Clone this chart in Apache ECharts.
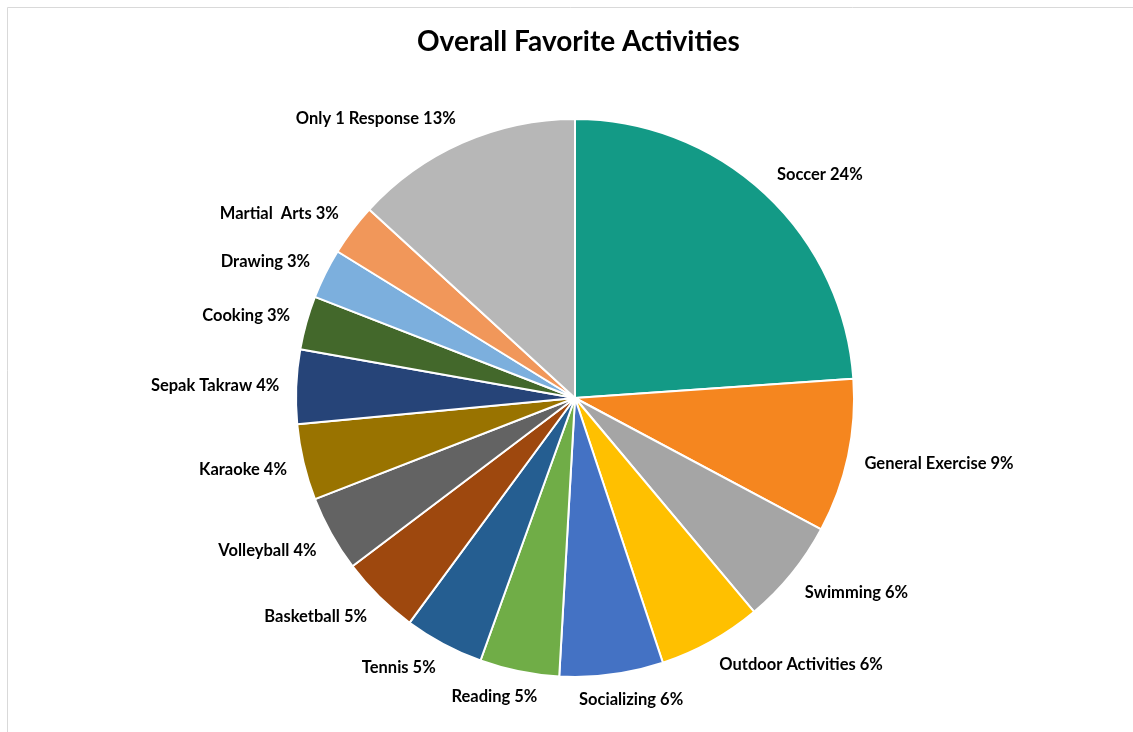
<!DOCTYPE html>
<html>
<head>
<meta charset="utf-8">
<script src="https://cdn.jsdelivr.net/npm/echarts@6/dist/echarts.min.js"></script>
<style>
html,body{margin:0;padding:0;background:#fff;}
#chart{width:1133px;height:732px;}
</style>
</head>
<body>
<div id="chart"></div>
<script>
const categories = ['Soccer','General Exercise','Swimming','Outdoor Activities','Socializing','Reading','Tennis','Basketball','Volleyball','Karaoke','Sepak Takraw','Cooking','Drawing','Martial  Arts','Only 1 Response'];
const values = [23.9, 8.9, 6.1, 6.0, 6.0, 4.6, 4.6, 4.6, 4.4, 4.4, 4.3, 3.1, 2.9, 3.0, 13.2];
const colors = ['#139A86','#F5861F','#A5A5A5','#FFC000','#4472C4','#70AD47','#255E91','#9E480E','#636363','#997300','#264478','#43682B','#7CAFDD','#F1975A','#B7B7B7'];

const CX = 575, CY = 398, R = 279, GAP = 17;
const total = values.reduce((a,b)=>a+b,0);
const midAngles = [];
let acc = 0;
values.forEach(v => { midAngles.push((acc + v/2) / total * 2 * Math.PI); acc += v; });
const clamp = v => Math.max(-1, Math.min(1, v));

const chart = echarts.init(document.getElementById('chart'));
chart.setOption({
  animation: false,
  backgroundColor: '#fff',
  title: {
    text: 'Overall Favorite Activities',
    left: 412, top: 23,
    textStyle: {fontFamily: 'Lato', fontWeight: 'bold', fontSize: 28, color: '#000'}
  },
  graphic: [{
    type: 'rect', left: 5, top: 5, silent: true,
    shape: {width: 1140, height: 740},
    style: {fill: 'none', stroke: '#d9d9d9', lineWidth: 1}
  }],
  series: [{
    type: 'pie',
    center: [CX, CY],
    radius: R,
    startAngle: 90,
    clockwise: true,
    data: categories.map((c,i)=>({name:c, value:values[i], itemStyle:{color:colors[i]}})),
    itemStyle: {borderColor: '#fff', borderWidth: 2},
    label: {
      show: true, position: 'outside',
      fontFamily: 'Lato', fontWeight: 'bold', fontSize: 16.5, color: '#000',
      formatter: p => p.name + ' ' + Math.round(p.percent) + '%'
    },
    labelLine: {show: false, length: 10, length2: 0},
    labelLayout: function (p) {
      const a = midAngles[p.dataIndex];
      const s = Math.sin(a), c = Math.cos(a);
      const w = p.labelRect.width, h = p.labelRect.height;
      const px = CX + (R + GAP) * s, py = CY - (R + GAP) * c;
      const vk = c < 0 ? 2 : 1.1;
      return {
        x: px + clamp(2.5 * s) * w / 2,
        y: py + clamp(-vk * c) * h / 2,
        align: 'center', verticalAlign: 'middle'
      };
    }
  }]
});
</script>
</body>
</html>
